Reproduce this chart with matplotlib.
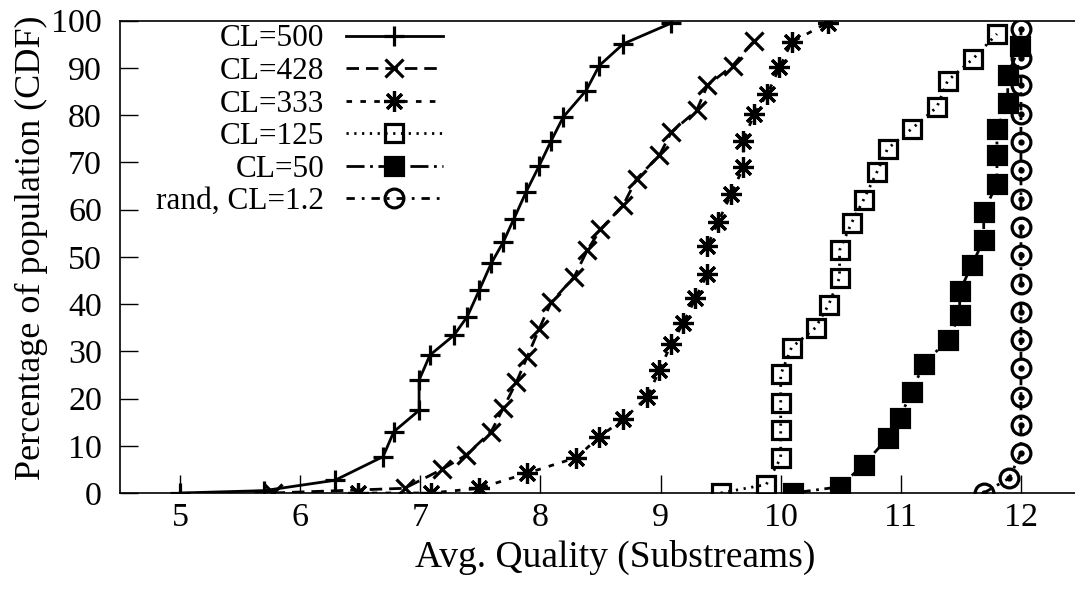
import matplotlib
matplotlib.use("Agg")
import matplotlib.pyplot as plt

plt.rcParams['font.family'] = ['Liberation Serif', 'DejaVu Serif']
plt.rcParams['font.size'] = 25

# CDF data
cl500_x = [5.0, 5.7, 6.29, 6.69, 6.78, 6.99, 6.99, 7.08, 7.28, 7.39, 7.49, 7.59,
           7.69, 7.78, 7.88, 7.99, 8.09, 8.19, 8.38, 8.49, 8.69, 9.09]
cl500_y = [0, 0.5, 2.7, 7.7, 13.0, 17.5, 23.9, 29.2, 33.4, 37.3, 42.9, 48.6,
           53.1, 58.1, 63.7, 69.3, 74.6, 79.6, 85.2, 90.5, 95.1, 99.5]

cl428_x = [5.77, 6.87, 7.18, 7.38, 7.59, 7.69, 7.80, 7.89, 7.99, 8.09, 8.28,
           8.39, 8.50, 8.69, 8.80, 8.99, 9.09, 9.30, 9.39, 9.60, 9.78]
cl428_y = [0, 1.0, 5.0, 8.0, 13.0, 17.9, 23.5, 28.8, 34.8, 40.4, 45.7,
           51.4, 55.8, 61.0, 66.5, 71.5, 76.4, 81.0, 86.3, 90.5, 95.8]

cl333_x = [6.48, 7.09, 7.49, 7.89, 8.30, 8.49, 8.69, 8.89, 8.99, 9.09, 9.19, 9.29,
           9.39, 9.39, 9.48, 9.59, 9.69, 9.69, 9.78, 9.89, 9.99, 10.09, 10.39]
cl333_y = [0, 0, 1.0, 4.2, 7.5, 11.9, 15.6, 20.3, 26.0, 31.6, 36.0, 41.2,
           46.4, 52.3, 57.4, 63.4, 69.0, 74.6, 80.3, 84.5, 90.1, 95.4, 99.6]

cl125_x = [9.50, 9.88, 10.0, 10.0, 10.0, 10.0, 10.09, 10.29, 10.40, 10.49,
           10.49, 10.59, 10.69, 10.80, 10.89, 11.09, 11.30, 11.39, 11.60, 11.80]
cl125_y = [0, 1.8, 7.4, 13.3, 19.1, 25.1, 30.8, 35.0, 39.9, 45.6,
           51.4, 57.2, 62.1, 67.9, 72.9, 77.1, 81.7, 87.3, 91.9, 97.2]

cl50_x = [10.10, 10.49, 10.69, 10.89, 10.99, 11.09, 11.19, 11.39, 11.49, 11.49,
          11.59, 11.69, 11.69, 11.80, 11.80, 11.80, 11.89, 11.89, 11.99]
cl50_y = [0, 1.3, 6.0, 11.6, 15.9, 21.4, 27.3, 32.4, 37.6, 42.7,
          48.2, 53.6, 59.5, 65.5, 71.5, 77.1, 82.6, 88.5, 94.6]

rand_x = [11.69, 11.90, 12.0, 12.0, 12.0, 12.0, 12.0, 12.0, 12.0, 12.0,
          12.0, 12.0, 12.0, 12.0, 12.0, 12.0, 12.0, 12.0]
rand_y = [0, 3.1, 8.4, 14.4, 20.4, 26.4, 32.3, 38.3, 44.3, 50.3,
          56.3, 62.3, 68.3, 74.3, 80.3, 86.3, 92.2, 98.2]

fig = plt.figure(figsize=(10.75, 5.9), dpi=100)
ax = fig.add_axes([0.1116, 0.1644, 0.894, 0.8005])

lw = 2.0
ax.plot(cl500_x, cl500_y, color='black', lw=lw, ls='-', marker='+', ms=14, mew=2.3,
        label='CL=500')
ax.plot(cl428_x, cl428_y, color='black', lw=lw, ls=(0, (4.5, 2.5)), marker='x',
        ms=12.5, mew=2.3, label='CL=428')
ax.plot(cl333_x, cl333_y, color='black', lw=lw, ls=(0, (2, 3)), marker=(8, 2, 0),
        ms=15, mew=2.3, label='CL=333')
ax.plot(cl125_x, cl125_y, color='black', lw=lw, ls=(0, (0.8, 2)), marker='s',
        ms=12.5, mew=2.3, fillstyle='none', label='CL=125')
ax.plot(cl50_x, cl50_y, color='black', lw=lw, ls=(0, (6.5, 2, 1, 2)), marker='s',
        ms=12.5, mew=2.3, label='CL=50')
ax.plot(rand_x, rand_y, color='black', lw=lw, ls=(0, (3, 2.5, 1, 2.5)), marker='o',
        ms=13.5, mew=2.3, fillstyle='none', label='rand, CL=1.2')
ax.plot(rand_x, rand_y, color='black', ls='none', marker='o', ms=3.5)

ax.set_xlim(4.5, 12.5)
ax.set_ylim(0, 100)
ax.set_xticks([5, 6, 7, 8, 9, 10, 11, 12])
ax.set_yticks(range(0, 101, 10))
ax.tick_params(direction='in', length=13, width=1.0, pad=13, top=False, right=False,
               labelsize=24.5)
ax.tick_params(axis='x', pad=7)
for s in ax.spines.values():
    s.set_linewidth(1.2)

ax.set_xlabel('Avg. Quality (Substreams)', fontsize=27)
ax.set_ylabel('Percentage of population (CDF)', fontsize=26)
ax.xaxis.set_label_coords(0.515, -0.1)
ax.yaxis.set_label_coords(-0.075, 0.52)

ax.legend(loc='upper right', markerfirst=False, frameon=False, handlelength=3.1,
          handletextpad=0.7, labelspacing=0.113, fontsize=22.5, borderpad=0,
          borderaxespad=0, bbox_to_anchor=(0.336, 0.992))

fig.savefig('out.png', dpi=100)
